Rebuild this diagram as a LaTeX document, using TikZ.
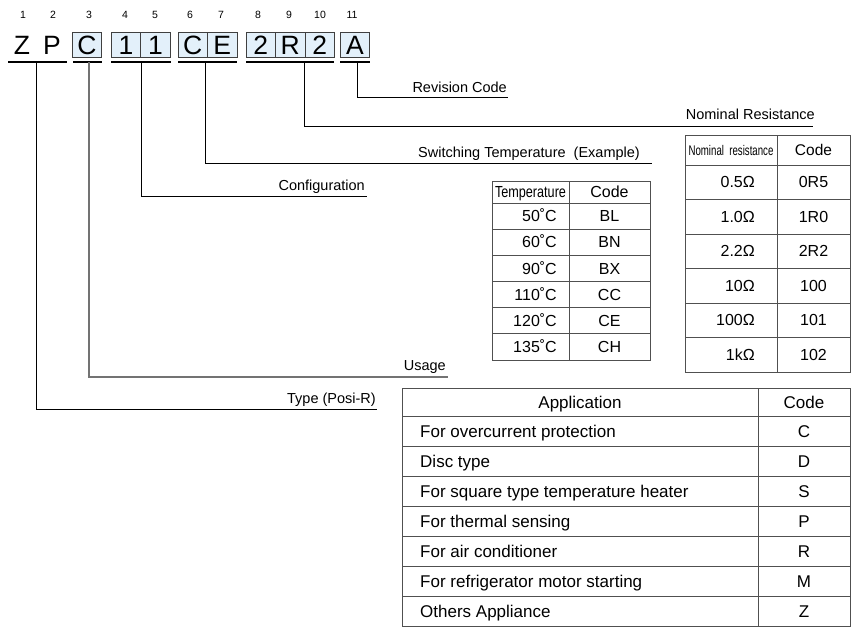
\documentclass[tikz,border=0pt]{standalone}
\usepackage{fontspec}
\usepackage{graphicx}
\setmainfont{Liberation Sans}
\definecolor{boxblue}{HTML}{E3F0FA}
\definecolor{tgray}{HTML}{505050}
\begin{document}
\begin{tikzpicture}[x=1pt,y=-1pt,
  big/.style={font=\fontsize{26.5}{27}\selectfont, inner sep=0pt, text height=19pt, text depth=0pt, minimum height=25pt, minimum width=29.5pt},
  cbox/.style={big, draw=black!75, fill=boxblue, line width=0.8pt},
  idx/.style={font=\fontsize{10.5}{11}\selectfont, inner sep=0pt, anchor=base},
  uline/.style={line width=1.7pt},
  lead/.style={line width=0.9pt},
  leadgray/.style={line width=1.6pt, draw=black!55},
  lbl/.style={font=\fontsize{14.5}{16}\selectfont, inner sep=0pt, anchor=base east},
  tline/.style={draw=tgray, line width=0.8pt},
  tt/.style={font=\fontsize{16}{18}\selectfont, inner sep=0pt, anchor=base},
  ttr/.style={tt, anchor=base east},
  apptxt/.style={font=\fontsize{17}{19}\selectfont, inner sep=0pt, anchor=base},
  apptxtl/.style={apptxt, anchor=base west}
]
\useasboundingbox (0,0) rectangle (857,627);
\fill[white] (0,0) rectangle (857,627);

% ---- code characters ----
\node[big] (z1) at (22,44.5) {Z};
\node[big] (p2) at (52,44.5) {P};
\node[cbox] (c3) at (87,44.5) {C};
\node[cbox] (c4) at (126,44.5) {1};
\node[cbox] (c5) at (155.5,44.5) {1};
\node[cbox] (c6) at (192.75,44.5) {C};
\node[cbox] (c7) at (222.25,44.5) {E};
\node[cbox] (c8) at (260.75,44.5) {2};
\node[cbox] (c9) at (290.25,44.5) {R};
\node[cbox] (c10) at (319.75,44.5) {2};
\node[cbox] (c11) at (355,44.5) {A};

% ---- position numbers ----
\foreach \n/\x in {1/23,2/53,3/89,4/125,5/155,6/190,7/221,8/258,9/289,10/320,11/352}
  \node[idx] (n\n) at (\x,18) {\n};

% ---- underlines ----
\draw[uline] (8,62) -- (67,62);
\draw[uline] (73,62) -- (102,62);
\draw[uline] (111,62) -- (171,62);
\draw[uline] (178,62) -- (237,62);
\draw[uline] (246,62) -- (334,62);
\draw[uline] (340,62) -- (370,62);

\coordinate (uZP) at (36.7,62);
\coordinate (uC) at (89,62);
\coordinate (u11) at (141,62);
\coordinate (uCE) at (205,62);
\coordinate (uR) at (304,62);
\coordinate (uA) at (357,62);

\coordinate (eA) at (508,97);
\coordinate (eR) at (813,126);
\coordinate (eCE) at (652,163);
\coordinate (e11) at (367,196);
\coordinate (eC) at (448,377);
\coordinate (eZP) at (377,409);

\draw[lead] (uA) |- (eA);
\draw[lead] (uR) |- (eR);
\draw[lead] (uCE) |- (eCE);
\draw[lead] (u11) |- (e11);
\draw[leadgray] (uC) |- (eC);
\draw[lead] (uZP) |- (eZP);

\node[lbl] (lA) at (507,92) {Revision Code};
\node[lbl] (lR) at (815,119) {Nominal Resistance};
\node[lbl] (lCE) at (640,157) {Switching Temperature\ \ (Example)};
\node[lbl] (l11) at (365,190) {Configuration};
\node[lbl] (lC) at (446,370) {Usage};
\node[lbl] (lZP) at (376,403) {Type (Posi-R)};

% ---- temperature table ----
\draw[tline] (492,181) rectangle (650,360);
\draw[tline] (569,181) -- (569,360);
\draw[tline] (492,203) -- (650,203);
\foreach \i in {1,...,5}
  \draw[tline] (492,{203+26.17*\i}) -- (650,{203+26.17*\i});
\node[tt] (th1) at (530.5,197.5) {\scalebox{0.79}[1]{Temperature}};
\node[tt] (th2) at (609.5,197.5) {Code};
\foreach \t/\c [count=\i from 0] in {50˚C/BL,60˚C/BN,90˚C/BX,110˚C/CC,120˚C/CE,135˚C/CH}{
  \node[ttr] (tv\i) at (557,{216.1+26.17*\i+5.7}) {\t};
  \node[tt] (tc\i) at (609.5,{216.1+26.17*\i+5.7}) {\c};
}

% ---- resistance table ----
\draw[tline] (685,135) rectangle (850,372);
\draw[tline] (777,135) -- (777,372);
\draw[tline] (685,165) -- (850,165);
\foreach \i in {1,...,5}
  \draw[tline] (685,{165+34.5*\i}) -- (850,{165+34.5*\i});
\node[tt] (rh1) at (731,155) {\fontsize{14}{16}\selectfont\scalebox{0.69}[1]{Nominal\ \ resistance}};
\node[tt] (rh2) at (813.5,155.7) {\fontsize{15.5}{17}\selectfont Code};
\foreach \v/\c [count=\i from 0] in {0.5Ω/0R5,1.0Ω/1R0,2.2Ω/2R2,10Ω/100,100Ω/101,1kΩ/102}{
  \node[ttr] (rv\i) at (755,{182.25+34.5*\i+5.7}) {\v};
  \node[tt] (rc\i) at (813.5,{182.25+34.5*\i+5.7}) {\c};
}

% ---- application table ----
\draw[tline] (402,388) rectangle (850,626);
\draw[tline] (758,388) -- (758,626);
\draw[tline] (402,416) -- (850,416);
\foreach \i in {1,...,6}
  \draw[tline] (402,{416+30*\i}) -- (850,{416+30*\i});
\node[apptxt] (ah1) at (580,408.1) {Application};
\node[apptxt] (ah2) at (804,408.1) {Code};
\foreach \a/\c [count=\i from 0] in {For overcurrent protection/C,Disc type/D,For square type temperature heater/S,For thermal sensing/P,For air conditioner/R,For refrigerator motor starting/M,Others Appliance/Z}{
  \node[apptxtl] (av\i) at (420,{431+30*\i+6.1}) {\a};
  \node[apptxt] (ac\i) at (804,{431+30*\i+6.1}) {\c};
}
\end{tikzpicture}
\end{document}
